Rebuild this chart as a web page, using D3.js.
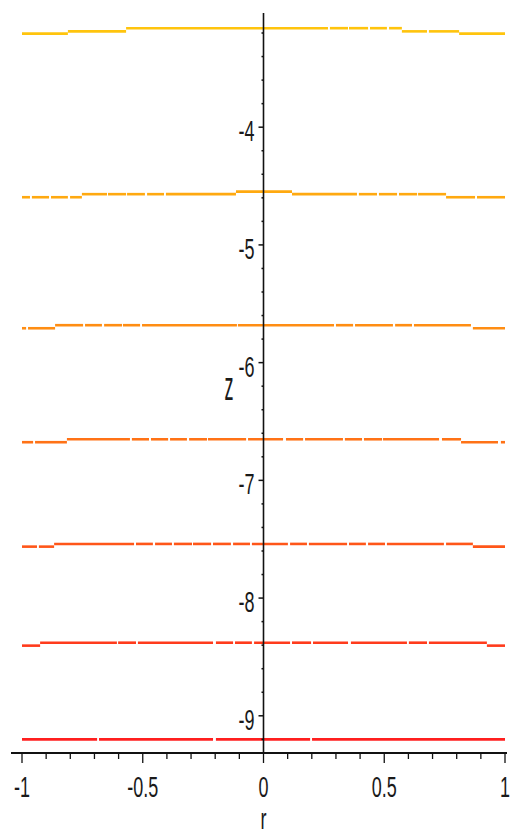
<!DOCTYPE html>
<html lang="en">
<head>
  <meta charset="UTF-8">
  <title>Contours</title>
  <script src="https://cdn.jsdelivr.net/npm/d3@7"></script>
  <style>
  body { margin: 0; background: #fff; }
  .lbl { font-family: "Liberation Sans", Arial, sans-serif; fill: #1a1a1a; }
  </style>
</head>
<body>
  <svg id="chart" width="510" height="834"></svg>
  <script>
  // contour pieces: [r start, r end, z]
  const level1 = [
    [-1, -0.81, -3.205], [-0.81, -0.569, -3.186], [-0.569, 0.267, -3.159],
    [0.275, 0.35, -3.159], [0.354, 0.433, -3.159], [0.441, 0.511, -3.159],
    [0.52, 0.573, -3.159], [0.573, 0.677, -3.186], [0.685, 0.81, -3.186],
    [0.81, 1, -3.205]
  ];
  const level2 = [
    [-1, -0.967, -4.595], [-0.959, -0.888, -4.595], [-0.88, -0.81, -4.595],
    [-0.801, -0.752, -4.595], [-0.752, -0.648, -4.569], [-0.644, -0.569, -4.569],
    [-0.565, -0.491, -4.569], [-0.482, -0.412, -4.569], [-0.404, -0.114, -4.569],
    [-0.114, 0.118, -4.547], [0.118, 0.387, -4.569], [0.395, 0.47, -4.569],
    [0.478, 0.553, -4.569], [0.561, 0.636, -4.569], [0.64, 0.756, -4.569],
    [0.756, 0.876, -4.595], [0.884, 1, -4.595]
  ];
  const level3 = [
    [-1, -0.983, -5.708], [-0.975, -0.863, -5.708], [-0.863, -0.747, -5.682],
    [-0.739, -0.669, -5.682], [-0.66, -0.586, -5.682], [-0.582, -0.511, -5.682],
    [-0.503, -0.11, -5.682], [-0.106, 0.292, -5.682], [0.3, 0.371, -5.682],
    [0.379, 0.536, -5.682], [0.545, 0.615, -5.682], [0.623, 0.859, -5.682],
    [0.867, 1, -5.708]
  ];
  const level4 = [
    [-1, -0.954, -6.676], [-0.946, -0.814, -6.676], [-0.814, -0.553, -6.651],
    [-0.545, -0.474, -6.651], [-0.466, -0.395, -6.651], [-0.387, -0.317, -6.651],
    [-0.308, -0.234, -6.651], [-0.23, -0.072, -6.651], [-0.064, 0.081, -6.651],
    [0.093, 0.164, -6.651], [0.172, 0.329, -6.651], [0.337, 0.408, -6.651],
    [0.416, 0.491, -6.651], [0.495, 0.727, -6.651], [0.739, 0.818, -6.651],
    [0.818, 0.971, -6.676], [0.983, 1, -6.676]
  ];
  const level5 = [
    [-1, -0.938, -7.563], [-0.93, -0.867, -7.563], [-0.867, -0.536, -7.54],
    [-0.528, -0.458, -7.54], [-0.449, -0.379, -7.54], [-0.371, -0.296, -7.54],
    [-0.292, -0.217, -7.54], [-0.209, -0.135, -7.54], [-0.126, -0.056, -7.54],
    [-0.048, 0.101, -7.54], [0.11, 0.18, -7.54], [0.188, 0.346, -7.54],
    [0.354, 0.424, -7.54], [0.433, 0.503, -7.54], [0.511, 0.747, -7.54],
    [0.756, 0.867, -7.54], [0.867, 1, -7.563]
  ];
  const level6 = [
    [-1, -0.925, -8.404], [-0.925, -0.607, -8.379], [-0.602, -0.528, -8.379],
    [-0.52, -0.209, -8.379], [-0.197, -0.126, -8.379], [-0.118, -0.048, -8.379],
    [-0.039, 0.11, -8.379], [0.118, 0.197, -8.379], [0.205, 0.35, -8.379],
    [0.362, 0.594, -8.379], [0.602, 0.677, -8.379], [0.685, 0.925, -8.379],
    [0.925, 1, -8.404]
  ];
  const level7 = [
    [-1, -0.689, -9.2], [-0.681, -0.209, -9.2], [-0.197, 0.193, -9.2], [0.201, 1, -9.2]
  ];
  const levels = [level1, level2, level3, level4, level5, level6, level7];

  const xTicks = [-1, -0.5, 0, 0.5, 1];
  const yTicks = [-4, -5, -6, -7, -8, -9];

  const svg = d3.select('#chart');
  const x = d3.scaleLinear().domain([-1, 1]).range([22, 505]);
  const y = d3.scaleLinear().domain([-9.316, -3.03]).range([753, 13]);

  // top level yellow, bottom level red
  const color = d3.scaleLinear().domain([0, levels.length - 1])
    .range(['#ffc40d', '#ff1f1f']);

  levels.forEach((segs, i) => {
    svg.append('g').selectAll('line')
      .data(segs).join('line')
        .attr('x1', d => x(d[0])).attr('x2', d => x(d[1]))
        .attr('y1', d => y(d[2])).attr('y2', d => y(d[2]))
        .attr('stroke', color(i))
        .attr('stroke-width', 2.6);
  });

  // x axis
  const xAx = svg.append('g').attr('transform', `translate(0,${y(-9.316)})`);
  xAx.append('line')
    .attr('x1', 11).attr('x2', 507)
    .attr('stroke', '#111').attr('stroke-width', 2);
  xAx.selectAll('line.tk')
    .data(d3.range(-10, 11).map(d => d / 10)).join('line')
      .attr('class', 'tk')
      .attr('x1', d => x(d)).attr('x2', d => x(d))
      .attr('y1', 0)
      .attr('y2', (d, i) => i % 5 === 0 ? 10 : 6)
      .attr('stroke', '#111').attr('stroke-width', 1.3);
  xAx.selectAll('text')
    .data(xTicks).join('text')
      .attr('class', 'lbl')
      .attr('text-anchor', 'middle')
      .attr('font-size', 30)
      .attr('transform', d => `translate(${x(d)},44) scale(0.6,1)`)
      .text(d => d);

  // y axis
  const yAx = svg.append('g').attr('transform', `translate(${x(0)},0)`);
  yAx.append('line')
    .attr('y1', 13).attr('y2', 753)
    .attr('stroke', '#111').attr('stroke-width', 1.6);
  const minorY = d3.range(-92, -31, 2).map(d => d / 10);
  yAx.selectAll('line.tk')
    .data(minorY).join('line')
      .attr('class', 'tk')
      .attr('y1', d => y(d)).attr('y2', d => y(d))
      .attr('x1', d => Math.abs(d - Math.round(d)) < 1e-6 ? -5 : -2)
      .attr('x2', 0)
      .attr('stroke', '#111').attr('stroke-width', 1.5);
  yAx.selectAll('text')
    .data(yTicks).join('text')
      .attr('class', 'lbl')
      .attr('text-anchor', 'end')
      .attr('font-size', 30)
      .attr('transform', d => `translate(-9,${y(d) + 14}) scale(0.6,1)`)
      .text(d => d);

  // axis titles
  svg.append('text').attr('class', 'lbl')
    .attr('text-anchor', 'middle').attr('font-size', 30)
    .attr('transform', `translate(${x(0)},829) scale(0.6,1)`)
    .text('r');
  svg.append('text').attr('class', 'lbl')
    .attr('text-anchor', 'middle').attr('font-size', 40)
    .attr('transform', 'translate(229,400) scale(0.45,1)')
    .text('z');
  </script>
</body>
</html>
